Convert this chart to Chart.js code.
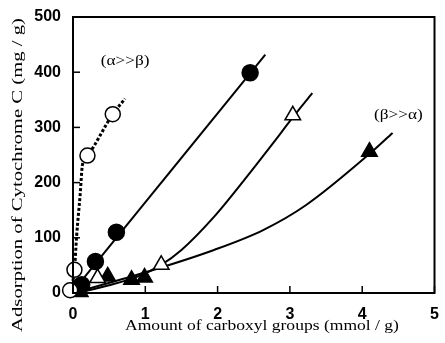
<!DOCTYPE html>
<html><head><meta charset="utf-8">
<script src="https://cdn.jsdelivr.net/npm/chart.js@4/dist/chart.umd.min.js"></script>
<style>html,body{margin:0;padding:0;background:#fff}#wrap{width:445px;height:343px;position:relative}</style>
</head><body><div id="wrap"><canvas id="c" width="445" height="343"></canvas></div>
<script>
// Data
const xTicks = [0, 1, 2, 3, 4, 5];
const yTicks = [0, 100, 200, 300, 400, 500];
const xTitle = 'Amount of carboxyl groups (mmol / g)';
const yTitle = 'Adsorption of Cytochrome C (mg / g)';

const openCircleX = [-0.04, 0.02, 0.2, 0.55];
const openCircleY = [5, 42, 249, 324];
const dottedX = [-0.04, 0.02, 0.05, 0.1, 0.13, 0.2, 0.55, 0.72];
const dottedY = [5, 42, 103, 180, 232, 249, 324, 352];

const filledCircleX = [0.12, 0.31, 0.6, 2.45];
const filledCircleY = [15, 57, 110, 399];
const filledCircleLineX = [0.03, 2.66];
const filledCircleLineY = [8, 432];

const openTriX = [0.34, 1.22, 3.04];
const openTriY = [27, 51, 322];
const openTriCurveX = [0.05, 0.5, 0.9, 1.22, 1.5, 1.95, 2.4, 2.77, 3.04, 3.31];
const openTriCurveY = [0, 14, 30, 51, 78, 138, 210, 272, 318, 362];

const filledTriX = [0.1, 0.48, 0.81, 0.99, 4.1];
const filledTriY = [2, 30, 24, 28, 256];
const filledTriCurveX = [0, 1.04, 1.95, 2.63, 3.22, 4.1, 4.42];
const filledTriCurveY = [0, 39, 78, 114, 159, 252, 290];

const labelAlpha = '(\u03B1>>\u03B2)';
const labelBeta = '(\u03B2>>\u03B1)';

const pts = (xs, ys) => xs.map((x, i) => ({x: x, y: ys[i]}));

const lineDs = (xs, ys, dash, w) => ({
  type: 'line', data: pts(xs, ys), borderColor: '#000', borderWidth: w || 2,
  borderDash: dash || [], pointRadius: 0, fill: false,
  cubicInterpolationMode: 'monotone', clip: false, order: 10
});
const markDs = (xs, ys, style, fillCol, r) => ({
  type: 'scatter', data: pts(xs, ys), pointStyle: style, pointRadius: r,
  pointBackgroundColor: fillCol, pointBorderColor: '#000', pointBorderWidth: 1.5,
  showLine: false, clip: false, order: 0
});

const SERIF = '"Liberation Serif", "DejaVu Serif", serif';

function stretchedText(ctx, text, x, y, sx, rot) {
  ctx.save();
  ctx.translate(x, y);
  if (rot) ctx.rotate(rot);
  ctx.scale(sx, 1);
  ctx.fillText(text, 0, 0);
  ctx.restore();
}

function zeroPad(s) { s.paddingTop = 0; s.paddingBottom = 0; s.paddingLeft = 0; s.paddingRight = 0; }

const frame = {
  id: 'frame',
  afterDraw(chart) {
    const ctx = chart.ctx, a = chart.chartArea;
    const xs = chart.scales.x, ys = chart.scales.y;
    ctx.save();
    ctx.strokeStyle = '#000'; ctx.lineWidth = 2;
    ctx.strokeRect(a.left, a.top, a.right - a.left, a.bottom - a.top);
    ctx.lineWidth = 1.5;
    xTicks.forEach(v => { const p = xs.getPixelForValue(v);
      ctx.beginPath(); ctx.moveTo(p, a.bottom); ctx.lineTo(p, a.bottom - 7); ctx.stroke(); });
    yTicks.forEach(v => { const p = ys.getPixelForValue(v);
      ctx.beginPath(); ctx.moveTo(a.left, p); ctx.lineTo(a.left + 7, p); ctx.stroke(); });
    ctx.fillStyle = '#000';
    ctx.textAlign = 'center'; ctx.textBaseline = 'middle';
    ctx.font = '15px ' + SERIF;
    stretchedText(ctx, labelAlpha, xs.getPixelForValue(0.72), ys.getPixelForValue(420), 1.15);
    stretchedText(ctx, labelBeta, xs.getPixelForValue(4.5), ys.getPixelForValue(323), 1.15);
    ctx.font = '15px ' + SERIF;
    stretchedText(ctx, xTitle, 262, 326, 1.17);
    ctx.font = '15px ' + SERIF;
    stretchedText(ctx, yTitle, 18, 175, 1.38, -Math.PI / 2);
    ctx.restore();
  }
};

new Chart(document.getElementById('c'), {
  type: 'scatter',
  data: { datasets: [
    markDs(openCircleX, openCircleY, 'circle', '#fff', 7.5),
    markDs(filledCircleX, filledCircleY, 'circle', '#000', 8),
    markDs(openTriX, openTriY, 'triangle', '#fff', 9),
    markDs(filledTriX, filledTriY, 'triangle', '#000', 9),
    lineDs(dottedX, dottedY, [3, 2], 3),
    lineDs(filledCircleLineX, filledCircleLineY),
    lineDs(openTriCurveX, openTriCurveY),
    lineDs(filledTriCurveX, filledTriCurveY)
  ]},
  plugins: [frame],
  options: {
    responsive: false, animation: false, devicePixelRatio: 1,
    layout: { padding: { top: 17, right: -2.5, left: 0, bottom: 0 } },
    plugins: { legend: { display: false }, tooltip: { enabled: false } },
    scales: {
      x: {
        type: 'linear', min: 0, max: 5,
        afterBuildTicks: s => { s.ticks = xTicks.map(v => ({value: v})); },
        afterFit: s => { s.height = 50; zeroPad(s); },
        grid: { display: false, drawTicks: false }, border: { display: false },
        ticks: { color: '#000', padding: 12, font: { family: '"Liberation Sans", Arial, sans-serif', size: 16, weight: 'bold' } }
      },
      y: {
        type: 'linear', min: 0, max: 500,
        afterBuildTicks: s => { s.ticks = yTicks.map(v => ({value: v})); },
        afterFit: s => { s.width = 73; zeroPad(s); },
        grid: { display: false, drawTicks: false }, border: { display: false },
        ticks: { color: '#000', padding: 12, font: { family: '"Liberation Sans", Arial, sans-serif', size: 16, weight: 'bold' } }
      }
    }
  }
});
</script></body></html>
